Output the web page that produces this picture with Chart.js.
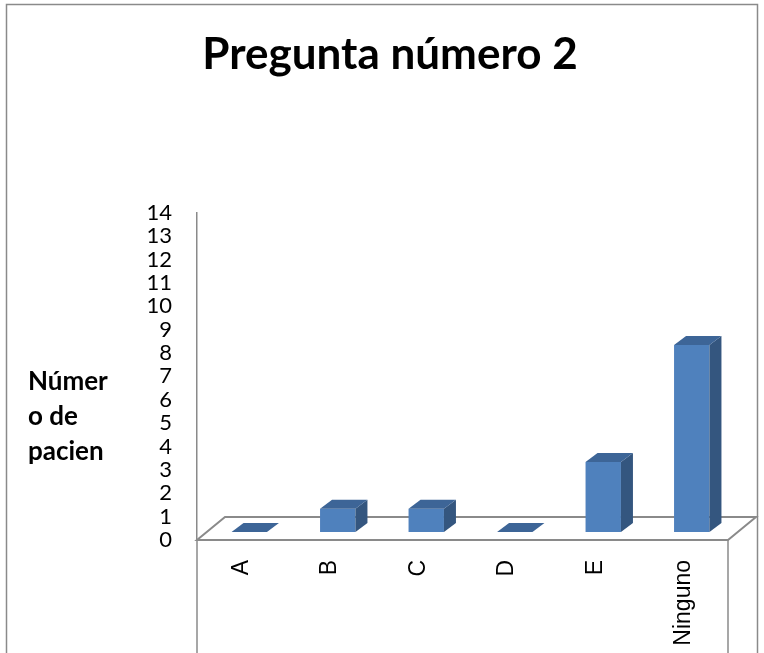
<!DOCTYPE html>
<html>
<head>
<meta charset="utf-8">
<script src="https://cdn.jsdelivr.net/npm/chart.js@4/dist/chart.umd.min.js"></script>
<style>
  body { margin: 0; background: #fff; }
  #wrap { width: 764px; height: 653px; }
</style>
</head>
<body>
<div id="wrap"><canvas id="chart" width="764" height="653"></canvas></div>
<script>
    var categories = ["A", "B", "C", "D", "E", "Ninguno"];
    var pacientes = [0, 1, 1, 0, 3, 8];
    var yTitleLines = ["Númer", "o de", "pacien"];
    var titleText = "Pregunta número 2";

    var frontColor = "#4f81bd";
    var sideColor = "#34567f";
    var topColor = "#3d6597";
    var lineColor = "#8a8a8a";

    // shift of the bars onto the middle of the floor
    var shiftX = 8, shiftY = -8;
    // depth of a bar
    var depthX = 12, depthY = -9;
    // depth of the floor
    var floorX = 28, floorY = -23;

    var fake3d = {
        id: "fake3d",
        beforeDraw: function (chart) {
            var ctx = chart.ctx;
            var a = chart.chartArea;
            ctx.save();
            // outer frame
            ctx.strokeStyle = lineColor;
            ctx.lineWidth = 1.5;
            ctx.strokeRect(6.5, 4.5, 751, 700);
            // y axis title
            ctx.fillStyle = "#000";
            ctx.font = "bold 26px Lato";
            ctx.textAlign = "left";
            ctx.textBaseline = "middle";
            for (var i = 0; i < yTitleLines.length; i++) {
                ctx.fillText(yTitleLines[i], 28, 382 + i * 35);
            }
            // box under the floor for the category labels
            ctx.lineWidth = 1.5;
            ctx.beginPath();
            ctx.moveTo(a.left, a.bottom);
            ctx.lineTo(a.left, chart.height + 5);
            ctx.moveTo(a.right, a.bottom);
            ctx.lineTo(a.right, chart.height + 5);
            ctx.stroke();
            ctx.restore();
        },
        beforeDatasetsDraw: function (chart) {
            var ctx = chart.ctx;
            var a = chart.chartArea;
            ctx.save();
            // floor
            ctx.strokeStyle = lineColor;
            ctx.lineWidth = 2;
            ctx.beginPath();
            ctx.moveTo(a.left, a.bottom);
            ctx.lineTo(a.right, a.bottom);
            ctx.lineTo(a.right + floorX, a.bottom + floorY);
            ctx.lineTo(a.left + floorX, a.bottom + floorY);
            ctx.closePath();
            ctx.stroke();
            ctx.restore();
            ctx.save();
            ctx.translate(shiftX, shiftY);
        },
        afterDatasetsDraw: function (chart) {
            var ctx = chart.ctx;
            ctx.restore();
            var meta = chart.getDatasetMeta(0);
            ctx.save();
            meta.data.forEach(function (el) {
                var x0 = el.x - el.width / 2 + shiftX;
                var x1 = el.x + el.width / 2 + shiftX;
                var yt = el.y + shiftY;
                var yb = el.base + shiftY;
                // side
                if (yb - yt > 0.5) {
                    ctx.fillStyle = sideColor;
                    ctx.beginPath();
                    ctx.moveTo(x1, yt);
                    ctx.lineTo(x1, yb);
                    ctx.lineTo(x1 + depthX, yb + depthY);
                    ctx.lineTo(x1 + depthX, yt + depthY);
                    ctx.closePath();
                    ctx.fill();
                }
                // top
                ctx.fillStyle = topColor;
                ctx.beginPath();
                ctx.moveTo(x0, yt);
                ctx.lineTo(x1, yt);
                ctx.lineTo(x1 + depthX, yt + depthY);
                ctx.lineTo(x0 + depthX, yt + depthY);
                ctx.closePath();
                ctx.fill();
            });
            ctx.restore();
        }
    };

    new Chart(document.getElementById("chart"), {
        type: "bar",
        data: {
            labels: categories,
            datasets: [{
                data: pacientes,
                backgroundColor: frontColor,
                borderWidth: 0,
                categoryPercentage: 1,
                barPercentage: 0.4
            }]
        },
        options: {
            responsive: false,
            animation: false,
            events: [],
            layout: { padding: { left: 52, right: 36, top: 0, bottom: 0 } },
            plugins: {
                legend: { display: false },
                tooltip: { enabled: false },
                title: {
                    display: true,
                    text: titleText,
                    color: "#000",
                    font: { family: "Lato", size: 44, weight: "bold", lineHeight: 1.2 },
                    padding: { top: 28, bottom: 132 }
                }
            },
            scales: {
                x: {
                    grid: { display: false },
                    border: { display: false },
                    ticks: {
                        color: "#000",
                        font: { family: "Liberation Sans", size: 23 },
                        minRotation: 90,
                        maxRotation: 90,
                        autoSkip: false,
                        padding: 12
                    },
                    afterFit: function (s) { s.height = 113; }
                },
                y: {
                    min: 0,
                    max: 14,
                    grid: { display: false },
                    border: { display: true, color: lineColor, width: 1.5 },
                    ticks: {
                        stepSize: 1,
                        autoSkip: false,
                        color: "#000",
                        font: { family: "Lato", size: 22, lineHeight: 1 },
                        padding: 17
                    },
                    afterFit: function (s) { s.width = 145; }
                }
            }
        },
        plugins: [fake3d]
    });
</script>
</body>
</html>
